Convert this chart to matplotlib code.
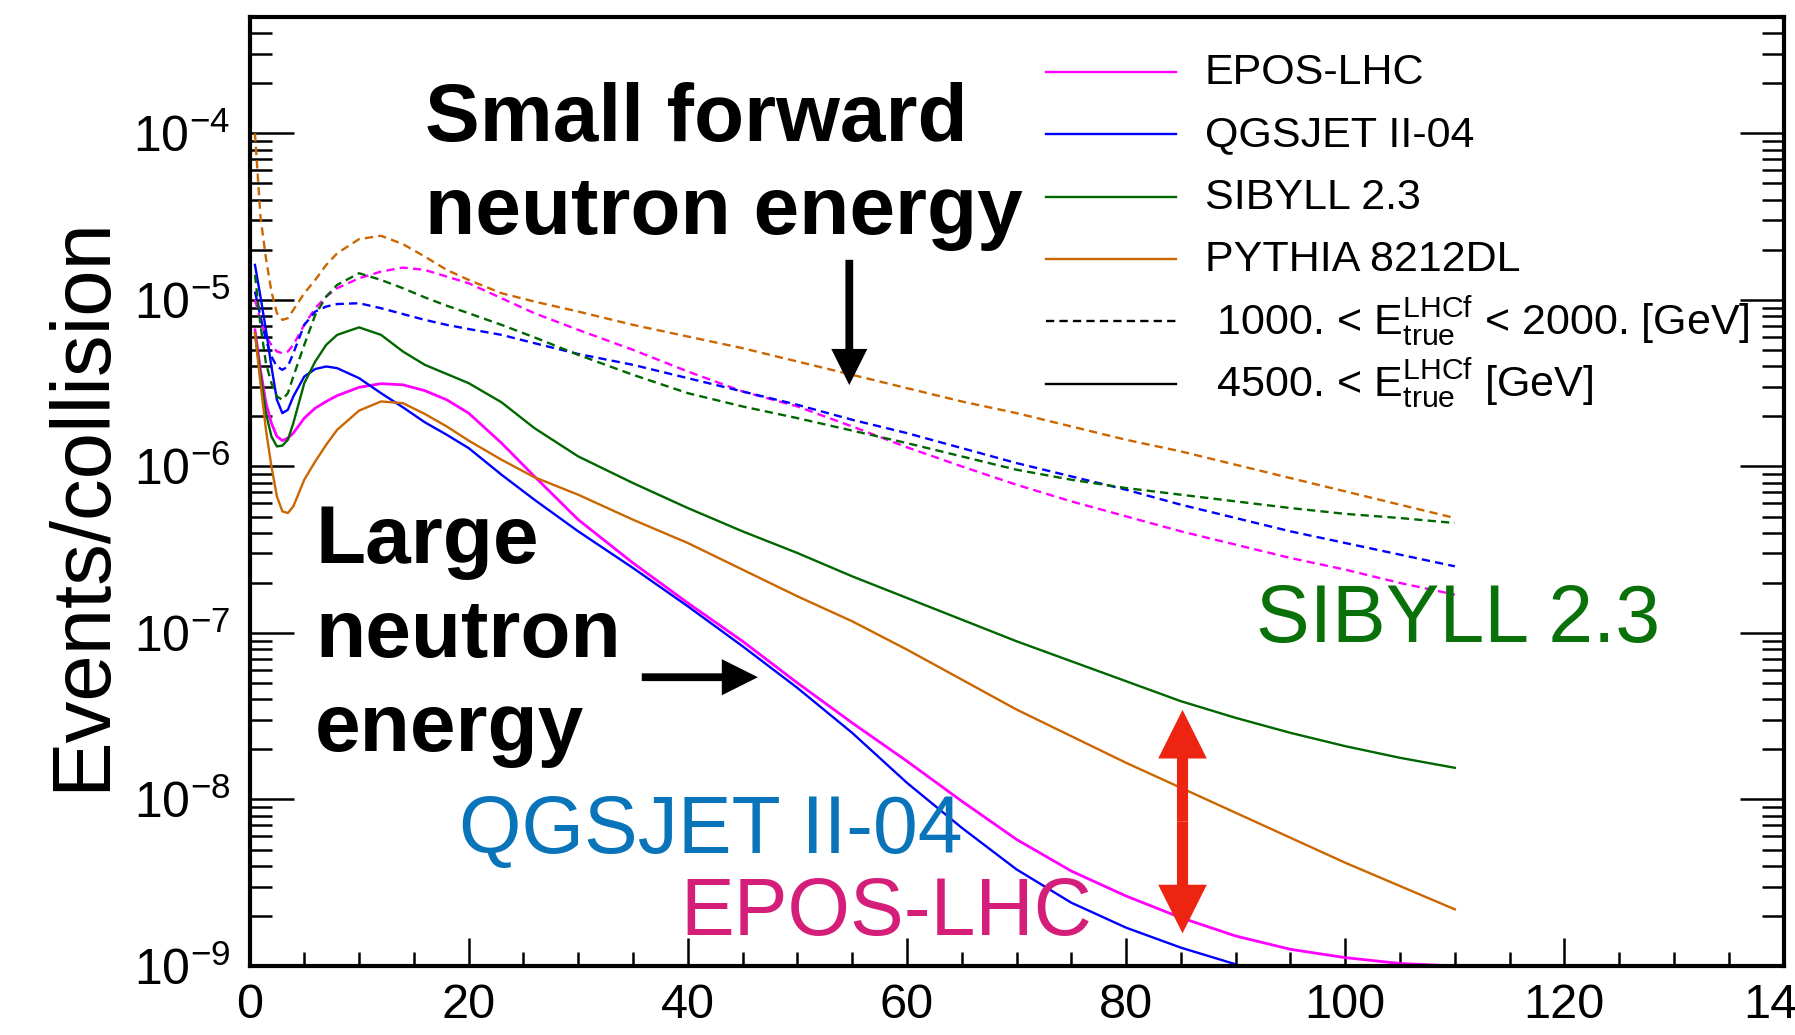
import matplotlib
matplotlib.use("Agg")
import matplotlib.pyplot as plt
import numpy as np
from matplotlib.lines import Line2D
from matplotlib.ticker import MultipleLocator, LogLocator

plt.rcParams["font.family"] = ["Liberation Sans", "DejaVu Sans"]
plt.rcParams["mathtext.fontset"] = "custom"
plt.rcParams["mathtext.rm"] = "Liberation Sans"
plt.rcParams["mathtext.it"] = "Liberation Sans:italic"
plt.rcParams["mathtext.bf"] = "Liberation Sans:bold"

# common x grid of all curves
x = [0.5, 1, 1.5, 2, 2.5, 3, 3.5, 4, 5, 6, 7, 8, 10, 12, 14, 16, 18, 20, 23, 26,
     30, 35, 40, 45, 50, 55, 60, 65, 70, 75, 80, 85, 90, 95, 100, 105, 110]

# log10(events/collision)
# "lo" = 1000 < E < 2000 GeV (dashed), "hi" = 4500 < E GeV (solid)
epos_lo = [-5.00, -5.12, -5.22, -5.27, -5.31, -5.32, -5.31, -5.27, -5.15, -5.05, -4.98, -4.93,
           -4.87, -4.83, -4.806, -4.82, -4.86, -4.90, -4.99, -5.08, -5.18, -5.30, -5.43, -5.55,
           -5.64, -5.76, -5.885, -6.00, -6.11, -6.21, -6.30, -6.39, -6.47, -6.55, -6.62, -6.70, -6.77]
qgs_lo = [-4.95, -5.10, -5.24, -5.34, -5.40, -5.42, -5.40, -5.32, -5.15, -5.07, -5.04, -5.025,
          -5.02, -5.05, -5.085, -5.12, -5.15, -5.175, -5.21, -5.26, -5.325, -5.39, -5.47, -5.55,
          -5.63, -5.72, -5.80, -5.89, -5.98, -6.06, -6.14, -6.23, -6.31, -6.39, -6.46, -6.53, -6.60]
sib_lo = [-4.85, -5.15, -5.38, -5.50, -5.58, -5.60, -5.56, -5.46, -5.27, -5.09, -4.98, -4.91,
          -4.84, -4.88, -4.93, -4.985, -5.035, -5.08, -5.15, -5.225, -5.33, -5.45, -5.56, -5.64,
          -5.71, -5.785, -5.86, -5.94, -6.02, -6.08, -6.13, -6.17, -6.21, -6.25, -6.285, -6.31, -6.34]
py_lo = [-4.00, -4.50, -4.75, -4.95, -5.08, -5.12, -5.11, -5.06, -4.96, -4.88, -4.79, -4.72,
         -4.635, -4.615, -4.665, -4.74, -4.82, -4.88, -4.96, -5.01, -5.07, -5.15, -5.22, -5.29,
         -5.37, -5.45, -5.53, -5.61, -5.68, -5.76, -5.84, -5.91, -5.99, -6.07, -6.15, -6.23, -6.31]

epos_hi = [-5.18, -5.42, -5.62, -5.74, -5.82, -5.845, -5.83, -5.80, -5.71, -5.65, -5.61, -5.575,
           -5.525, -5.503, -5.51, -5.545, -5.60, -5.68, -5.86, -6.06, -6.32, -6.58, -6.82, -7.05,
           -7.30, -7.54, -7.77, -8.01, -8.24, -8.43, -8.58, -8.71, -8.82, -8.90, -8.95, -8.985, -9.00]
qgs_hi = [-4.79, -4.98, -5.18, -5.40, -5.60, -5.68, -5.66, -5.58, -5.46, -5.415, -5.40, -5.41,
          -5.47, -5.56, -5.645, -5.735, -5.81, -5.89, -6.05, -6.20, -6.39, -6.61, -6.84, -7.08,
          -7.33, -7.60, -7.90, -8.17, -8.42, -8.62, -8.77, -8.89, -8.99,
          np.nan, np.nan, np.nan, np.nan]
sib_hi = [-5.20, -5.45, -5.68, -5.82, -5.88, -5.875, -5.84, -5.74, -5.50, -5.37, -5.27, -5.21,
          -5.165, -5.21, -5.31, -5.39, -5.445, -5.50, -5.615, -5.77, -5.94, -6.10, -6.25, -6.39,
          -6.52, -6.66, -6.79, -6.92, -7.05, -7.17, -7.29, -7.41, -7.51, -7.60, -7.68, -7.75, -7.81]
py_hi = [-5.20, -5.50, -5.78, -6.00, -6.18, -6.27, -6.28, -6.24, -6.08, -5.97, -5.87, -5.78,
         -5.665, -5.61, -5.62, -5.685, -5.76, -5.845, -5.96, -6.065, -6.17, -6.32, -6.46, -6.62,
         -6.78, -6.93, -7.10, -7.28, -7.46, -7.62, -7.78, -7.93, -8.08, -8.23, -8.38, -8.52, -8.66]

models = ["EPOS-LHC", "QGSJET II-04", "SIBYLL 2.3", "PYTHIA 8212DL"]
colors = ["#ff00ff", "#0000ff", "#006600", "#cc6600"]
lo_curves = [epos_lo, qgs_lo, sib_lo, py_lo]
hi_curves = [epos_hi, qgs_hi, sib_hi, py_hi]
ranges = [r" 1000. < $\mathrm{E}^{\mathrm{LHCf}}_{\mathrm{true}}$ < 2000. [GeV]",
          r" 4500. < $\mathrm{E}^{\mathrm{LHCf}}_{\mathrm{true}}$ [GeV]"]

DASH = (0, (3.5, 2.2))

fig = plt.figure(figsize=(17.95, 10.35), dpi=100)
ax = fig.add_axes([0.139, 0.0667, 0.8546, 0.9169])

for lo, hi, col in zip(lo_curves, hi_curves, colors):
    ax.plot(x, 10 ** np.array(lo), color=col, ls=DASH, lw=1.7)
    ax.plot(x, 10 ** np.array(hi), color=col, ls="-", lw=2.0 if col == "#ff00ff" else 1.7)

ax.set_yscale("log")
ax.set_xlim(0, 140)
ax.set_ylim(1e-9, 5e-4)

# ROOT-like axes
for s in ax.spines.values():
    s.set_linewidth(3)
ax.xaxis.set_major_locator(MultipleLocator(20))
ax.xaxis.set_minor_locator(MultipleLocator(5))
ax.yaxis.set_major_locator(LogLocator(base=10))
ax.yaxis.set_minor_locator(LogLocator(base=10, subs=np.arange(2, 10)))
ax.tick_params(axis="y", which="both", direction="in", left=True, right=True, width=1.8)
ax.tick_params(axis="y", which="major", length=32, pad=14, labelsize=36)
ax.tick_params(axis="y", which="minor", length=16)
ax.tick_params(axis="x", which="both", direction="in", top=False, bottom=True, width=1.8)
ax.tick_params(axis="x", which="major", length=20, pad=12, labelsize=35)
ax.tick_params(axis="x", which="minor", length=10)

fig.text(104.5 / 1795, 1 - 504 / 1035, "Events/collision", fontsize=60,
         rotation=90, rotation_mode="anchor", ha="center", va="baseline")

# legend, drawn row by row so that all rows are evenly spaced
key_x = [0.519, 0.604]
text_x = 0.6226
row_top, row_step = 0.9424, 0.0658
entries = [(m, c, "-") for m, c in zip(models, colors)]
entries += [(ranges[0], "k", DASH), (ranges[1], "k", "-")]
for i, (lab, col, ls) in enumerate(entries):
    yy = row_top - i * row_step
    ax.add_line(Line2D(key_x, [yy, yy], transform=ax.transAxes, color=col, ls=ls,
                       lw=1.7, clip_on=False))
    ax.text(text_x, yy - 0.0132, lab, transform=ax.transAxes, fontsize=31, va="baseline")

# annotations
bold = dict(fontsize=59, fontweight="bold", color="k", ha="left", va="baseline")
ax.text(16.0, 9.0e-5, "Small forward", **bold)
ax.text(16.0, 2.49e-5, "neutron energy", **bold)
ax.text(6.0, 2.64e-7, "Large", **bold)
ax.text(6.0, 7.2e-8, "neutron", **bold)
ax.text(6.0, 1.96e-8, "energy", **bold)

ax.text(19.1, 4.75e-9, "QGSJET II-04", fontsize=58, color="#0a74ba", va="baseline")
ax.text(39.3, 1.53e-9, "EPOS-LHC", fontsize=58, color="#d41e7a", va="baseline")
ax.text(91.9, 8.87e-8, "SIBYLL 2.3", fontsize=58, color="#0a700a", va="baseline")

black_arrow = dict(arrowstyle="simple,head_length=26,head_width=26,tail_width=5.6",
                   mutation_scale=1, fc="k", ec="none", shrinkA=0, shrinkB=0)
ax.annotate("", xy=(54.74, 3.08e-6), xytext=(54.74, 1.74e-5), arrowprops=black_arrow)
ax.annotate("", xy=(46.4, 5.42e-8), xytext=(35.8, 5.42e-8), arrowprops=black_arrow)

red_arrow = dict(arrowstyle="simple,head_length=35,head_width=35,tail_width=8",
                 mutation_scale=1, fc="#ee2412", ec="none", shrinkA=0, shrinkB=0)
ax.annotate("", xy=(85.15, 3.45e-8), xytext=(85.15, 7.36e-9), arrowprops=red_arrow)
ax.annotate("", xy=(85.15, 1.57e-9), xytext=(85.15, 7.36e-9), arrowprops=red_arrow)

fig.savefig("out.png", dpi=100)
